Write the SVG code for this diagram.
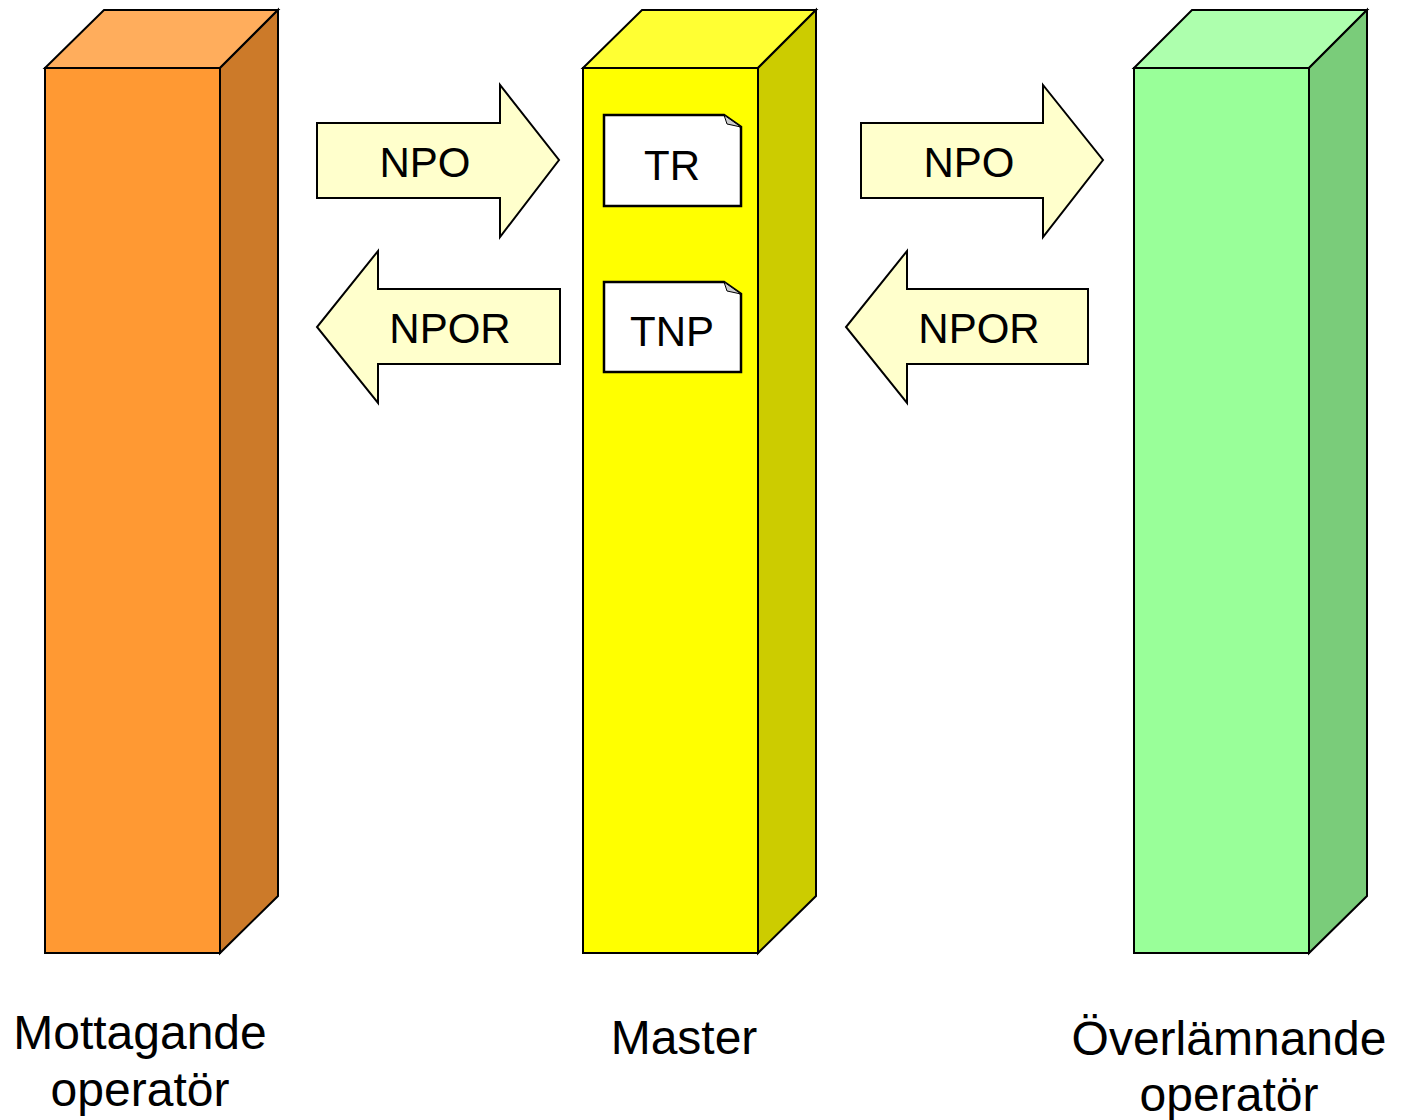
<svg xmlns="http://www.w3.org/2000/svg" width="1408" height="1120" viewBox="0 0 1408 1120">
<style>
.s{stroke:#000;stroke-width:2;stroke-linejoin:miter}
.arr{fill:#FFFFCC;stroke:#000;stroke-width:2}
.doc{fill:#fff;stroke:#000;stroke-width:2.5}
.t{font-family:"Liberation Sans",Arial,sans-serif;fill:#000;text-anchor:middle}
.a{font-size:42px}
.l{font-size:48px}
</style>
<rect width="1408" height="1120" fill="#fff"/>
<g id="mottagande">
<polygon class="s" fill="#FFAD5C" points="45,68 104,10 278,10 220,68"/>
<polygon class="s" fill="#CC7A29" points="220,68 278,10 278,896 220,953"/>
<rect class="s" fill="#FF9933" x="45" y="68" width="175" height="885"/>
<text class="t l" x="140" y="1049">Mottagande</text>
<text class="t l" x="140" y="1106">operatör</text>
</g>
<g id="master">
<polygon class="s" fill="#FFFF33" points="583,68 642,10 816,10 758,68"/>
<polygon class="s" fill="#CCCC00" points="758,68 816,10 816,896 758,953"/>
<rect class="s" fill="#FFFF00" x="583" y="68" width="175" height="885"/>
<text class="t l" x="684" y="1054">Master</text>
</g>
<g id="tr">
<path class="doc" d="M604,115 H724 L741,127 V206 H604 Z"/>
<path d="M724,115 L727,124 L741,127 Z" fill="#ccc" stroke="#000" stroke-width="1"/>
<text class="t a" x="672" y="180">TR</text>
</g>
<g id="tnp">
<path class="doc" d="M604,282 H724 L741,294 V372 H604 Z"/>
<path d="M724,282 L727,291 L741,294 Z" fill="#ccc" stroke="#000" stroke-width="1"/>
<text class="t a" x="672" y="346">TNP</text>
</g>
<g id="overlamnande">
<polygon class="s" fill="#ADFFAD" points="1134,68 1192,10 1367,10 1309,68"/>
<polygon class="s" fill="#7ACC7A" points="1309,68 1367,10 1367,896 1309,953"/>
<rect class="s" fill="#99FF99" x="1134" y="68" width="175" height="885"/>
<text class="t l" x="1229" y="1055">Överlämnande</text>
<text class="t l" x="1229" y="1111">operatör</text>
</g>
<g id="connectors">
<g id="npo1">
<polygon class="arr" points="317,123 500,123 500,85 559,160 500,237 500,198 317,198"/>
<text class="t a" x="425" y="177">NPO</text>
</g>
<g id="npor1">
<polygon class="arr" points="560,289 378,289 378,251 317,327 378,403 378,364 560,364"/>
<text class="t a" x="450" y="343">NPOR</text>
</g>
<g id="npo2">
<polygon class="arr" points="861,123 1043,123 1043,85 1103,160 1043,237 1043,198 861,198"/>
<text class="t a" x="969" y="177">NPO</text>
</g>
<g id="npor2">
<polygon class="arr" points="1088,289 907,289 907,251 846,327 907,403 907,364 1088,364"/>
<text class="t a" x="979" y="343">NPOR</text>
</g>
</g>
</svg>
